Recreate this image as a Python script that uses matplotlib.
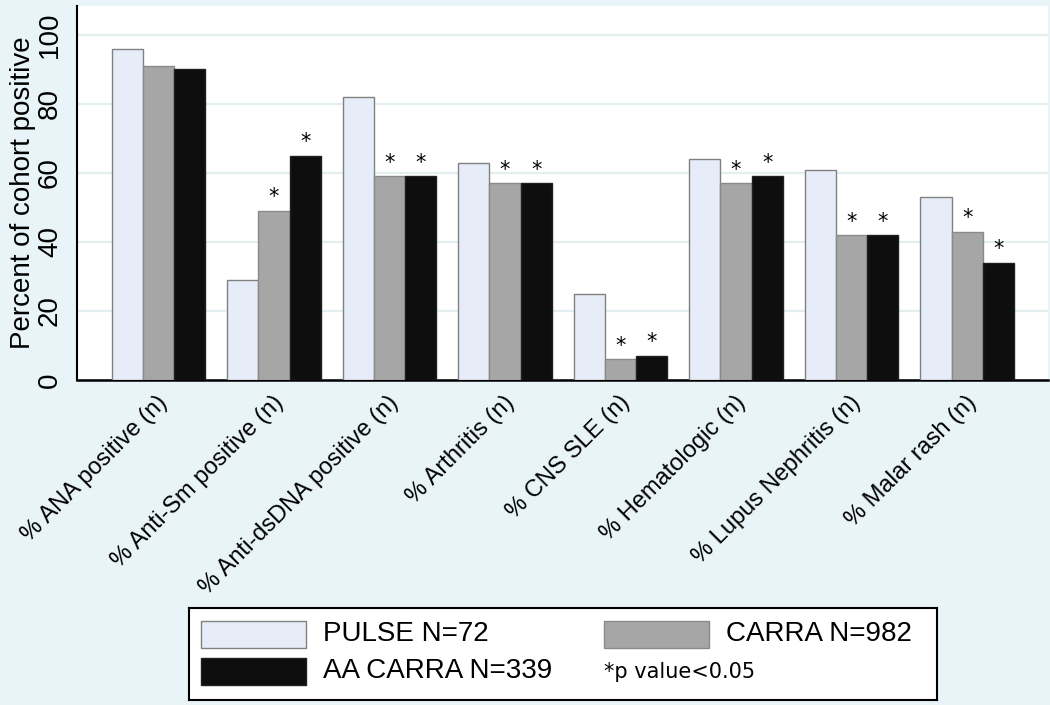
import matplotlib.pyplot as plt
import matplotlib.transforms as mtransforms
from matplotlib.patches import Rectangle
import numpy as np

categories = [
    "% ANA positive (n)",
    "% Anti-Sm positive (n)",
    "% Anti-dsDNA positive (n)",
    "% Arthritis (n)",
    "% CNS SLE (n)",
    "% Hematologic (n)",
    "% Lupus Nephritis (n)",
    "% Malar rash (n)",
]
pulse = [96, 29, 82, 63, 25, 64, 61, 53]
carra = [91, 49, 59, 57, 6, 57, 42, 43]
aa_carra = [90, 65, 59, 57, 7, 59, 42, 34]
# significance flags (p < 0.05) vs PULSE
carra_sig = [0, 1, 1, 1, 1, 1, 1, 1]
aa_sig = [0, 1, 1, 1, 1, 1, 1, 1]

series_labels = ["PULSE N=72", "CARRA N=982", "AA CARRA N=339"]
fills = ["#E6EDF8", "#A6A6A6", "#0E0E0E"]
edges = ["#808080", "#8A8A8A", "#202020"]
bg = "#E9F4F8"

plt.rcParams["font.family"] = ["Liberation Sans", "DejaVu Sans"]

fig = plt.figure(figsize=(10.5, 7.05), dpi=100, facecolor=bg)
ax = fig.add_axes([0.0733, 0.461, 0.9248, 0.5305])
ax.set_facecolor("white")

x = np.arange(len(categories))
width = 0.27
series = [pulse, carra, aa_carra]
for k, vals in enumerate(series):
    ax.bar(x + (k - 1) * width, vals, width, color=fills[k], edgecolor=edges[k],
           linewidth=1.0, zorder=3, label=series_labels[k])

for k, (vals, sig) in enumerate([(carra, carra_sig), (aa_carra, aa_sig)]):
    for i, (v, s) in enumerate(zip(vals, sig)):
        if s:
            ax.text(x[i] + k * width, v + 1.0, "*", ha="center", va="bottom",
                    fontsize=15, family="DejaVu Sans", zorder=4)

ax.set_xlim(-0.705, 7.70)
ax.set_ylim(0, 108.4)
ax.set_yticks([0, 20, 40, 60, 80, 100])
ax.set_yticklabels(["0", "20", "40", "60", "80", "100"], rotation=90, va="center", fontsize=20)
ax.tick_params(axis="y", length=0, pad=10)
ax.set_yticks([0], minor=True)
ax.tick_params(axis="y", which="minor", length=9, width=1.8, direction="out")
ax.set_ylabel("Percent of cohort positive", fontsize=20, labelpad=1)
ax.grid(axis="y", which="major", color="#E3EEF0", linewidth=1.6, zorder=0)
ax.set_axisbelow(True)

ax.set_xticks(x)
ax.set_xticklabels(categories, rotation=45, ha="right", va="center",
                   rotation_mode="anchor", fontsize=17)
ax.tick_params(axis="x", length=0, pad=14)
offset = mtransforms.ScaledTranslation(6 / 100, 0, fig.dpi_scale_trans)
for lab in ax.get_xticklabels():
    lab.set_transform(lab.get_transform() + offset)

for side in ["top", "right"]:
    ax.spines[side].set_visible(False)
ax.spines["left"].set_linewidth(1.5)
ax.spines["bottom"].set_linewidth(1.8)

# legend box drawn in pixel-like units
lx0, ly0, lw, lh = 189, 608, 748, 92
lax = fig.add_axes([lx0 / 1050, 1 - (ly0 + lh) / 705, lw / 1050, lh / 705])
lax.set_xlim(0, lw)
lax.set_ylim(lh, 0)
lax.set_xticks([])
lax.set_yticks([])
lax.set_facecolor("white")
for s in lax.spines.values():
    s.set_linewidth(1.5)
    s.set_color("black")

slots = [(12, 26), (415, 26), (12, 63)]
for k, (sx, sy) in enumerate(slots):
    lax.add_patch(Rectangle((sx, sy - 13), 105, 27, facecolor=fills[k],
                            edgecolor=edges[k], linewidth=1.0))
    lax.text(sx + 122, sy, series_labels[k], ha="left", va="center", fontsize=20)
lax.text(415, 64, "*p value<0.05", ha="left", va="center", fontsize=15,
         family="DejaVu Sans")

fig.savefig("out.png", dpi=100, facecolor=bg)
